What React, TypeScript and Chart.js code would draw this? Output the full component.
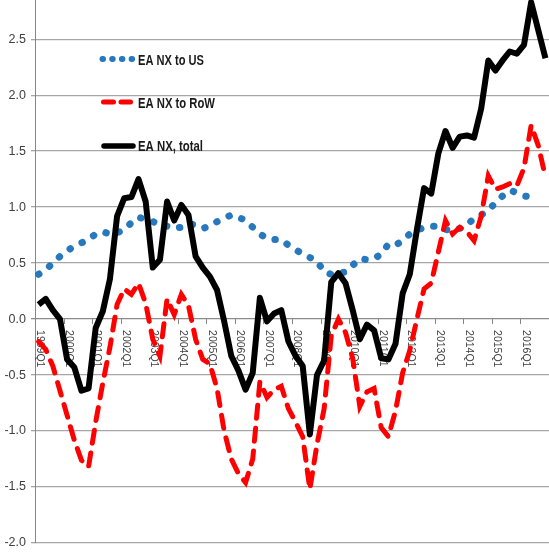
import React, { useEffect, useRef } from "react";
import { Chart, registerables } from "chart.js";

Chart.register(...registerables);

const years = [1999, 2000, 2001, 2002, 2003, 2004, 2005, 2006, 2007, 2008, 2009, 2010, 2011, 2012, 2013, 2014, 2015, 2016];
const quarterNames = ["Q1", "Q2", "Q3", "Q4"];
const categories: string[] = years.flatMap((yr) => quarterNames.map((q) => `${yr}${q}`));

const seriesNames = ["EA NX to US", "EA NX to RoW", "EA NX, total"];

const eaNxToUS: (number | null)[] = [
  0.40, 0.44, 0.50, 0.56, 0.61, 0.65, 0.68, 0.71, 0.76, 0.78, 0.76, 0.77,
  0.80, 0.86, 0.91, 0.89, 0.87, 0.85, 0.83, 0.81, 0.82, 0.85, 0.84, 0.81,
  0.83, 0.87, 0.90, 0.93, 0.91, 0.88, 0.82, 0.76, 0.72, 0.71, 0.71, 0.66,
  0.62, 0.58, 0.55, 0.52, 0.42, 0.40, 0.41, 0.42, 0.48, 0.54, 0.53, 0.54,
  0.58, 0.67, 0.66, 0.70, 0.76, 0.79, 0.82, 0.83, 0.83, 0.80, 0.79, 0.81,
  0.84, 0.90, 0.93, 0.97, 1.04, 1.10, 1.15, 1.13, 1.10, 1.09, 1.06, null,
];

const eaNxToRoW: number[] = [
  -0.20, -0.27, -0.42, -0.64, -0.86, -1.08, -1.26, -1.32, -0.92, -0.57, -0.25, 0.13,
  0.27, 0.22, 0.32, 0.14, -0.18, -0.33, 0.18, 0.04, 0.22, 0.12, -0.18, -0.36,
  -0.40, -0.62, -1.00, -1.25, -1.38, -1.46, -1.25, -0.56, -0.70, -0.63, -0.60, -0.80,
  -0.92, -1.05, -1.52, -1.12, -0.80, -0.15, 0.00, -0.12, -0.35, -0.78, -0.65, -0.62,
  -0.97, -1.05, -0.82, -0.48, -0.28, 0.00, 0.27, 0.32, 0.60, 0.88, 0.76, 0.82,
  0.78, 0.70, 0.92, 1.28, 1.16, 1.18, 1.21, 1.19, 1.35, 1.73, 1.55, 1.27,
];

const eaNxTotal: number[] = [
  0.13, 0.18, 0.08, 0.00, -0.36, -0.43, -0.64, -0.62, -0.08, 0.07, 0.36, 0.92,
  1.08, 1.09, 1.25, 1.05, 0.46, 0.53, 1.05, 0.88, 1.02, 0.93, 0.56, 0.46,
  0.38, 0.26, -0.02, -0.33, -0.46, -0.63, -0.48, 0.19, -0.02, 0.05, 0.08, -0.20,
  -0.33, -0.42, -1.03, -0.50, -0.37, 0.33, 0.41, 0.32, 0.08, -0.18, -0.05, -0.10,
  -0.35, -0.36, -0.22, 0.23, 0.40, 0.80, 1.17, 1.12, 1.48, 1.68, 1.53, 1.63,
  1.64, 1.62, 1.88, 2.31, 2.22, 2.31, 2.39, 2.37, 2.45, 2.83, 2.58, 2.33,
];

const yTicks = [-2.0, -1.5, -1.0, -0.5, 0.0, 0.5, 1.0, 1.5, 2.0, 2.5];
const yMin = -2.0;
const yMax = 2.85;

const BLUE = "#2878bd";
const RED = "#ff0000";
const BLACK = "#000000";
const GRID = "#a6a6a6";
const AXIS = "#868686";
const TEXT = "#404040";

const customPlugin = {
  id: "customDecor",
  beforeDatasetsDraw(chart: any) {
    const { ctx, scales } = chart;
    const x = scales.x;
    const y = scales.y;
    const y0 = y.getPixelForValue(0);
    const catW = x.getPixelForValue(1) - x.getPixelForValue(0);
    ctx.save();
    ctx.strokeStyle = AXIS;
    ctx.lineWidth = 1;
    for (let i = 0; i < categories.length; i += 4) {
      const bx = Math.round(x.getPixelForValue(i) - catW / 2) + 0.5;
      ctx.beginPath();
      ctx.moveTo(bx, y0);
      ctx.lineTo(bx, y0 + 5);
      ctx.stroke();
    }
    ctx.fillStyle = TEXT;
    ctx.font = '10.5px "Liberation Sans", Arial, sans-serif';
    ctx.textAlign = "left";
    ctx.textBaseline = "middle";
    for (let i = 0; i < categories.length; i += 4) {
      ctx.save();
      ctx.translate(x.getPixelForValue(i) + 1.5, y0 + 11);
      ctx.rotate(Math.PI / 2);
      ctx.fillText(categories[i], 0, 0);
      ctx.restore();
    }
    ctx.font = '12.5px "Liberation Sans", Arial, sans-serif';
    ctx.textAlign = "right";
    ctx.textBaseline = "middle";
    for (const v of yTicks) {
      ctx.fillText(v.toFixed(1), 26, y.getPixelForValue(v));
    }
    ctx.restore();
  },
  afterDatasetsDraw(chart: any) {
    const { ctx } = chart;
    ctx.save();
    ctx.lineCap = "round";
    ctx.strokeStyle = BLUE;
    ctx.lineWidth = 6;
    ctx.setLineDash([0.5, 9.2]);
    ctx.beginPath();
    ctx.moveTo(102.5, 59);
    ctx.lineTo(133, 59);
    ctx.stroke();
    ctx.setLineDash([]);
    ctx.strokeStyle = RED;
    ctx.lineWidth = 5;
    ctx.beginPath();
    ctx.moveTo(103.5, 102);
    ctx.lineTo(113.5, 102);
    ctx.moveTo(121, 102);
    ctx.lineTo(130.5, 102);
    ctx.stroke();
    ctx.strokeStyle = BLACK;
    ctx.lineWidth = 5.5;
    ctx.beginPath();
    ctx.moveTo(104, 146);
    ctx.lineTo(133, 146);
    ctx.stroke();
    ctx.fillStyle = "#1a1a1a";
    ctx.font = 'bold 14.5px "Liberation Sans", Arial, sans-serif';
    ctx.textAlign = "left";
    ctx.textBaseline = "alphabetic";
    ctx.fillText(seriesNames[0], 138, 64.5, 66);
    ctx.fillText(seriesNames[1], 138, 108, 77);
    ctx.fillText(seriesNames[2], 138, 150.5, 65);
    ctx.restore();
  },
};

export default function App() {
  const canvasRef = useRef<HTMLCanvasElement | null>(null);

  useEffect(() => {
    const canvas = canvasRef.current;
    if (!canvas) return;
    const chart = new Chart(canvas, {
      type: "line",
      data: {
        labels: categories,
        datasets: [
          {
            label: seriesNames[2],
            data: eaNxTotal,
            borderColor: BLACK,
            borderWidth: 6,
            pointRadius: 0,
            tension: 0,
            borderJoinStyle: "round",
            order: 0,
          },
          {
            label: seriesNames[1],
            data: eaNxToRoW,
            borderColor: RED,
            borderWidth: 5,
            borderDash: [13, 10],
            borderCapStyle: "round",
            pointRadius: 0,
            tension: 0,
            order: 1,
          },
          {
            label: seriesNames[0],
            data: eaNxToUS,
            borderColor: BLUE,
            borderWidth: 7,
            borderDash: [0.5, 13],
            borderCapStyle: "round",
            pointRadius: 0,
            tension: 0,
            order: 2,
          },
        ],
      },
      options: {
        animation: false,
        responsive: false,
        maintainAspectRatio: false,
        layout: { padding: { left: 0, right: 0, top: 0, bottom: 9 } },
        plugins: {
          legend: { display: false },
          tooltip: { enabled: false },
          title: { display: false },
        },
        scales: {
          x: {
            type: "category",
            display: false,
            offset: true,
          },
          y: {
            min: yMin,
            max: yMax,
            afterBuildTicks: (scale: any) => {
              scale.ticks = yTicks.map((v) => ({ value: v }));
            },
            afterFit: (scale: any) => {
              scale.width = 35;
            },
            ticks: { display: false },
            grid: {
              color: (ctx: any) => (ctx.tick && ctx.tick.value === 0 ? "#8c8c8c" : GRID),
              lineWidth: 1.3,
              drawTicks: true,
              tickLength: 4,
            },
            border: { display: true, color: AXIS, width: 1 },
          },
        },
      },
      plugins: [customPlugin],
    } as any);
    return () => chart.destroy();
  }, []);

  return (
    <div style={{ position: "fixed", left: 0, top: 0, width: 549, height: 552, background: "#ffffff" }}>
      <canvas ref={canvasRef} width={549} height={552} style={{ display: "block" }} />
    </div>
  );
}
